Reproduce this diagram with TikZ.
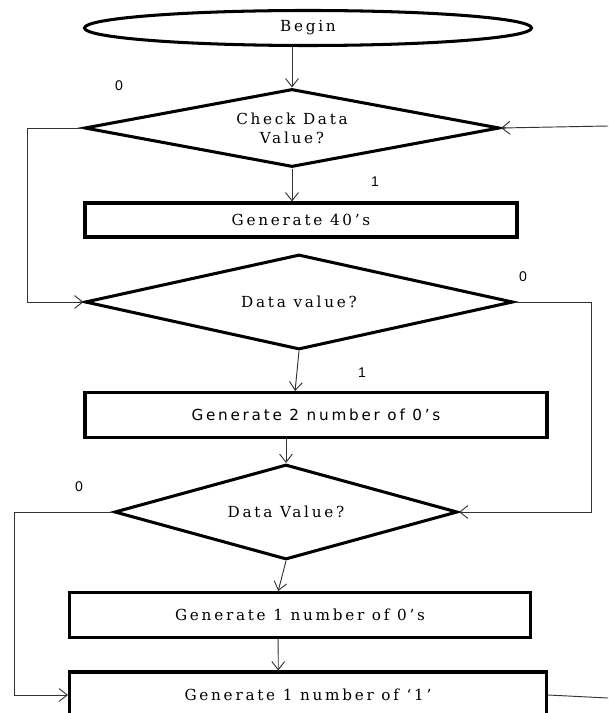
\documentclass[tikz,border=0pt]{standalone}
\usepackage{fontspec}
\setmainfont{DejaVu Serif}[LetterSpace=18]
\newfontfamily\sansbox{DejaVu Sans}[LetterSpace=18]
\newfontfamily\bitfont{Liberation Sans}
\usetikzlibrary{shapes.geometric}
\usetikzlibrary{arrows.meta}
\usetikzlibrary{calc}

\begin{document}
\begin{tikzpicture}[x=0.03cm, y=-0.03cm, font=\fontsize{13}{16}\selectfont,
    term/.style={draw, shape=ellipse, line width=2.6pt, inner sep=0pt},
    decision/.style={draw, shape=diamond, line width=2.6pt, inner sep=0pt, align=center},
    box/.style={draw, shape=rectangle, line width=2.6pt, inner sep=0pt},
    line/.style={draw=black!80, line width=0.8pt, -{Straight Barb[length=7pt,width=11pt]}},
    bit/.style={font=\bitfont\fontsize{12}{14}\selectfont}]
    \clip (0,0) rectangle (608,713);

    \draw (308,28) node [term, minimum width=13.41cm, minimum height=1.05cm] (begin) {Begin} ;
    \draw (292,128) node [decision, aspect=5.3, minimum width=12.45cm, minimum height=2.34cm] (d1) {Check Data\\Value?} ;
    \draw (301,220) node [box, minimum width=12.96cm, minimum height=1.02cm] (r1) {Generate 40’s} ;
    \draw (299,302) node [decision, aspect=4.5, minimum width=12.84cm, minimum height=2.85cm] (d2) {Data value?} ;
    \draw (316,415) node [box, minimum width=13.86cm, minimum height=1.35cm, font=\sansbox\fontsize{13}{16}\selectfont] (r2) {Generate 2 number of 0’s} ;
    \draw (286,512) node [decision, aspect=3.6, minimum width=10.29cm, minimum height=2.85cm] (d3) {Data Value?} ;
    \draw (300,615) node [box, minimum width=13.83cm, minimum height=1.35cm] (r3) {Generate 1 number of 0’s} ;
    \draw (308,695) node [box, minimum width=14.31cm, minimum height=1.38cm] (r4) {Generate 1 number of ‘1’} ;

    \coordinate (lft1) at (27,0);
    \coordinate (lft2) at (14,0);
    \coordinate (rgt1) at (591,0);
    \coordinate (rgt0) at (608,126);
    \coordinate (rgt2) at (608,698);

    \draw[line] (begin.south -| d1.north) -- (d1.north);
    \draw[line] (rgt0) -- (d1.east);
    \draw[line] (d1.south) -- (d1.south |- r1.north);
    \draw[line] (d1.west) -- (d1.west -| lft1) -- (d2.west -| lft1) -- (d2.west);

    \draw[line] (d2.south) -- ($(r2.north west)!0.455!(r2.north east)$);
    \draw[line] (d3.north |- r2.south) -- (d3.north);
    \draw[line] (d2.east) -- (d2.east -| rgt1) -- (d3.east -| rgt1) -- (d3.east);

    \draw[line] (d3.south) -- ($(r3.north west)!0.453!(r3.north east)$);
    \draw[line] ($(r3.south west)!0.453!(r3.south east)$) -- ($(r4.north west)!0.438!(r4.north east)$);
    \draw[line] (d3.west) -- (d3.west -| lft2) -- (r4.west -| lft2) -- (r4.west);
    \draw[line, -] (r4.east) -- (rgt2);

    \draw (119,86) node [bit] (no1) {0} ;
    \draw (375,182) node [bit] (yes1) {1} ;
    \draw (523,277) node [bit] (no2) {0} ;
    \draw (362,373) node [bit] (yes2) {1} ;
    \draw (79,487) node [bit] (no3) {0} ;
\end{tikzpicture}
\end{document}
